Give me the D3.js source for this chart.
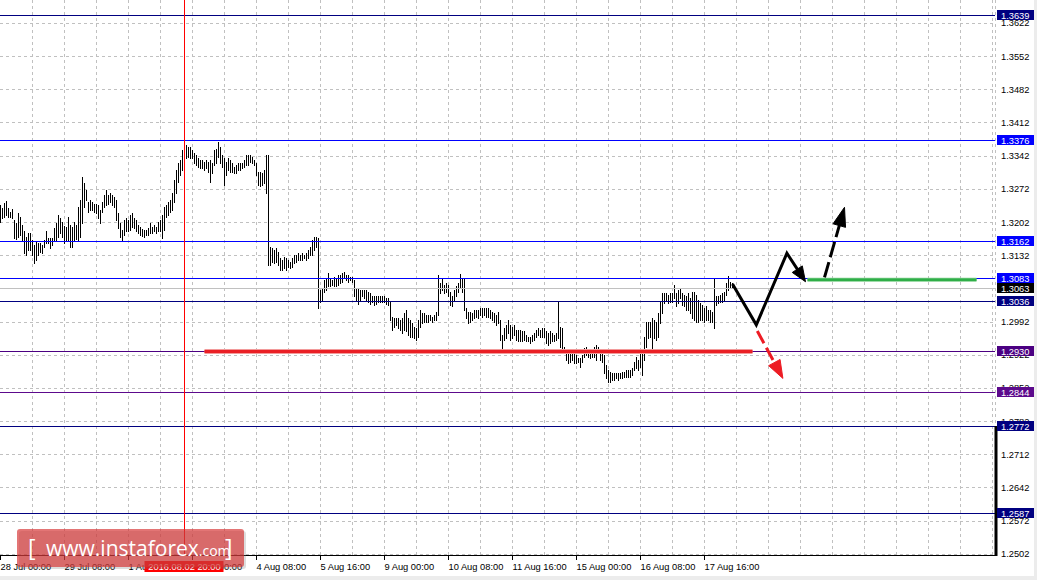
<!DOCTYPE html>
<html><head><meta charset="utf-8">
<script src="https://cdn.jsdelivr.net/npm/d3@7"></script>
<style>
html,body{margin:0;padding:0;background:#fff;}
svg{display:block;}
text{font-family:"Liberation Sans",Arial,sans-serif;}
</style></head><body>
<svg id="chart" width="1037" height="580"></svg>
<script>
// ---------------- DATA ----------------
// hourly bars (GBPUSD H1), 28 Jul 2016 00:00 -> 18 Aug 2016 06:00
const highs = [
1.3239,1.3232,1.3244,1.3247,1.3232,1.3225,1.3230,1.3207,1.3200,1.3221,
1.3214,1.3197,1.3183,1.3172,1.3179,1.3179,1.3165,1.3155,1.3162,1.3158,
1.3158,1.3155,1.3165,1.3183,1.3169,1.3169,1.3169,1.3190,1.3200,1.3218,
1.3211,1.3204,1.3195,1.3192,1.3214,1.3197,1.3193,1.3204,1.3197,1.3235,
1.3249,1.3299,1.3285,1.3271,1.3246,1.3249,1.3246,1.3242,1.3242,1.3239,
1.3228,1.3246,1.3260,1.3271,1.3260,1.3264,1.3260,1.3256,1.3249,1.3221,
1.3200,1.3186,1.3207,1.3211,1.3207,1.3218,1.3221,1.3211,1.3207,1.3197,
1.3193,1.3188,1.3186,1.3186,1.3190,1.3200,1.3193,1.3197,1.3193,1.3204,
1.3207,1.3218,1.3235,1.3239,1.3246,1.3249,1.3264,1.3292,1.3313,1.3327,
1.3334,1.3355,1.3365,1.3365,1.3362,1.3362,1.3355,1.3348,1.3344,1.3337,
1.3334,1.3334,1.3330,1.3334,1.3330,1.3334,1.3327,1.3355,1.3358,1.3372,
1.3362,1.3344,1.3337,1.3330,1.3337,1.3334,1.3327,1.3320,1.3323,1.3327,
1.3327,1.3327,1.3334,1.3344,1.3344,1.3344,1.3341,1.3334,1.3327,1.3309,
1.3309,1.3306,1.3313,1.3344,1.3344,1.3151,1.3148,1.3144,1.3148,1.3140,
1.3126,1.3123,1.3130,1.3126,1.3123,1.3119,1.3126,1.3133,1.3133,1.3137,
1.3133,1.3137,1.3133,1.3137,1.3144,1.3151,1.3165,1.3172,1.3172,1.3169,
1.3060,1.3063,1.3081,1.3084,1.3096,1.3084,1.3081,1.3088,1.3084,1.3091,
1.3091,1.3095,1.3098,1.3091,1.3091,1.3088,1.3088,1.3081,1.3063,1.3063,
1.3060,1.3060,1.3060,1.3060,1.3056,1.3053,1.3046,1.3046,1.3046,1.3046,
1.3046,1.3046,1.3046,1.3042,1.3042,1.3035,1.3003,1.3000,1.3000,1.3000,
1.2996,1.3000,1.3011,1.3018,1.3000,1.2996,1.2989,1.2982,1.2979,1.2996,
1.3018,1.3011,1.3011,1.3007,1.3007,1.3007,1.3003,1.3007,1.3014,1.3091,
1.3074,1.3084,1.3070,1.3074,1.3070,1.3056,1.3046,1.3060,1.3067,1.3074,
1.3093,1.3084,1.3084,1.3021,1.3014,1.3014,1.3011,1.3018,1.3018,1.3018,
1.3021,1.3021,1.3021,1.3021,1.3021,1.3018,1.3014,1.3011,1.3007,1.3014,
1.2996,1.2965,1.2979,1.2986,1.2996,1.2986,1.2982,1.2986,1.2975,1.2975,
1.2975,1.2972,1.2972,1.2965,1.2961,1.2961,1.2965,1.2968,1.2975,1.2979,
1.2975,1.2979,1.2979,1.2972,1.2968,1.2972,1.2968,1.2965,1.2968,1.3035,
1.2982,1.2979,1.2940,1.2933,1.2926,1.2930,1.2933,1.2926,1.2923,1.2916,
1.2916,1.2923,1.2937,1.2940,1.2933,1.2933,1.2933,1.2940,1.2944,1.2940,
1.2930,1.2926,1.2923,1.2901,1.2891,1.2887,1.2884,1.2884,1.2884,1.2884,
1.2884,1.2887,1.2887,1.2891,1.2891,1.2891,1.2894,1.2908,1.2919,1.2912,
1.2926,1.2933,1.2961,1.2993,1.2993,1.2993,1.3000,1.2996,1.2993,1.3011,
1.3035,1.3053,1.3053,1.3053,1.3049,1.3053,1.3053,1.3070,1.3053,1.3060,
1.3063,1.3053,1.3049,1.3046,1.3053,1.3042,1.3056,1.3056,1.3049,1.3039,
1.3032,1.3028,1.3021,1.3025,1.3018,1.3018,1.3014,1.3084,1.3046,1.3046,
1.3049,1.3053,1.3056,1.3074,1.3089,1.3077,1.3074
];
const lows = [
1.3204,1.3211,1.3214,1.3218,1.3214,1.3213,1.3211,1.3169,1.3167,1.3172,
1.3176,1.3165,1.3137,1.3133,1.3144,1.3144,1.3133,1.3116,1.3123,1.3133,
1.3140,1.3137,1.3151,1.3158,1.3158,1.3148,1.3155,1.3165,1.3165,1.3172,
1.3179,1.3172,1.3158,1.3162,1.3165,1.3151,1.3151,1.3162,1.3167,1.3165,
1.3172,1.3200,1.3235,1.3249,1.3225,1.3228,1.3228,1.3225,1.3221,1.3211,
1.3200,1.3225,1.3235,1.3239,1.3242,1.3246,1.3239,1.3235,1.3207,1.3190,
1.3172,1.3165,1.3176,1.3183,1.3183,1.3186,1.3193,1.3190,1.3183,1.3179,
1.3176,1.3174,1.3172,1.3176,1.3176,1.3179,1.3179,1.3183,1.3179,1.3183,
1.3183,1.3169,1.3186,1.3214,1.3218,1.3225,1.3228,1.3246,1.3264,1.3288,
1.3302,1.3313,1.3334,1.3337,1.3341,1.3337,1.3337,1.3327,1.3323,1.3320,
1.3316,1.3316,1.3313,1.3316,1.3309,1.3288,1.3306,1.3323,1.3327,1.3341,
1.3327,1.3320,1.3281,1.3302,1.3313,1.3309,1.3309,1.3306,1.3306,1.3313,
1.3313,1.3316,1.3320,1.3323,1.3323,1.3330,1.3327,1.3323,1.3302,1.3281,
1.3278,1.3281,1.3285,1.3264,1.3112,1.3112,1.3119,1.3116,1.3119,1.3112,
1.3102,1.3102,1.3105,1.3102,1.3109,1.3105,1.3109,1.3116,1.3119,1.3123,
1.3123,1.3123,1.3126,1.3123,1.3126,1.3133,1.3133,1.3144,1.3151,1.3022,
1.3035,1.3038,1.3056,1.3060,1.3067,1.3067,1.3070,1.3067,1.3067,1.3070,
1.3074,1.3077,1.3084,1.3081,1.3077,1.3081,1.3077,1.3046,1.3038,1.3031,
1.3038,1.3046,1.3042,1.3038,1.3035,1.3031,1.3035,1.3028,1.3031,1.3035,
1.3035,1.3035,1.3035,1.3031,1.3028,1.2996,1.2975,1.2982,1.2986,1.2979,
1.2975,1.2968,1.2975,1.2972,1.2965,1.2961,1.2961,1.2958,1.2954,1.2961,
1.2982,1.2989,1.2993,1.2993,1.2993,1.2996,1.2993,1.2996,1.2996,1.3007,
1.3053,1.3060,1.3053,1.3056,1.3046,1.3028,1.3025,1.3038,1.3046,1.3056,
1.3063,1.3056,1.3018,1.3000,1.2989,1.2993,1.2996,1.3000,1.3003,1.3000,
1.3007,1.3003,1.3007,1.3003,1.3003,1.3000,1.2996,1.2993,1.2986,1.2989,
1.2954,1.2933,1.2954,1.2958,1.2968,1.2954,1.2958,1.2965,1.2954,1.2951,
1.2951,1.2951,1.2954,1.2951,1.2951,1.2947,1.2951,1.2954,1.2961,1.2965,
1.2961,1.2961,1.2961,1.2947,1.2944,1.2947,1.2951,1.2951,1.2954,1.2958,
1.2940,1.2937,1.2926,1.2912,1.2905,1.2908,1.2912,1.2905,1.2905,1.2908,
1.2898,1.2908,1.2919,1.2923,1.2919,1.2916,1.2919,1.2919,1.2912,1.2926,
1.2912,1.2908,1.2884,1.2873,1.2866,1.2866,1.2870,1.2870,1.2873,1.2870,
1.2873,1.2873,1.2877,1.2877,1.2877,1.2877,1.2880,1.2891,1.2894,1.2891,
1.2898,1.2880,1.2912,1.2940,1.2958,1.2961,1.2937,1.2958,1.2954,1.2961,
1.2989,1.3011,1.3032,1.3039,1.3032,1.3035,1.3035,1.3042,1.3025,1.3032,
1.3042,1.3028,1.3025,1.3018,1.3018,1.3011,1.3000,1.2996,1.2993,1.2993,
1.2996,1.2996,1.2993,1.2996,1.2996,1.2993,1.2993,1.2979,1.3028,1.3032,
1.3035,1.3035,1.3039,1.3049,1.3060,1.3063,1.3066
];

const priceTicks = [1.2502,1.2572,1.2642,1.2712,1.2782,1.2852,1.2922,1.2992,1.3062,1.3132,1.3202,1.3272,1.3342,1.3412,1.3482,1.3552,1.3622];
const timeTickIndex = [0,32,64,96,128,160,192,224,256,288,320,352];
const timeTickLabels = ["28 Jul 00:00","29 Jul 08:00","1 Aug 16:00","3 Aug 00:00","4 Aug 08:00","5 Aug 16:00","9 Aug 00:00","10 Aug 08:00","11 Aug 16:00","15 Aug 00:00","16 Aug 08:00","17 Aug 16:00"];

const levelPrices = [1.3639,1.3376,1.3162,1.3083,1.3063,1.3036,1.2930,1.2844,1.2772,1.2587];
const levelLabels = ["1.3639","1.3376","1.3162","1.3083","1.3063","1.3036","1.2930","1.2844","1.2772","1.2587"];

const markerIndex = 92;                    // 2016.08.02 20:00
const markerLabel = "2016.08.02 20:00";

const supportIdx = [102, 376];   const supportPrice = 1.2930;
const resistIdx  = [403.5, 488]; const resistPrice  = 1.3081;
const pathIdx    = [366, 377.9, 393.2, 402.5];
const pathPrice  = [1.3072, 1.2986, 1.3137, 1.3077];
const upIdx      = [412, 422];   const upPrice   = [1.3086, 1.3234];
const downIdx    = [378.4, 391.2]; const downPrice = [1.2973, 1.2873];

const logoMain = "www.instaforex";
const logoTld = ".com";

// ---------------- STYLE ----------------
const levelStyle = {
  "1.3639":{line:"#000080", box:"#000080"},
  "1.3376":{line:"#0000ff", box:"#0000ff"},
  "1.3162":{line:"#0000ff", box:"#0000ff"},
  "1.3083":{line:"#0000ff", box:"#0000ff"},
  "1.3063":{line:"#c0c0c0", box:"#000000"},
  "1.3036":{line:"#000080", box:"#000080"},
  "1.2930":{line:"#4b0082", box:"#4b0082"},
  "1.2844":{line:"#5c0a8c", box:"#5c0a8c"},
  "1.2772":{line:"#000080", box:"#000080"},
  "1.2587":{line:"#000080", box:"#000080"}
};

const svg = d3.select("#chart");
const PW = 995, PH = 555;
const x = d3.scaleLinear().domain([0, 497.5]).range([0.5, 995.5]);
const y = d3.scaleLinear().domain([1.25004, 1.36714]).range([555, 0]);
const crisp = v => Math.floor(v) + 0.5;

svg.append("rect").attr("width",1037).attr("height",580).attr("fill","#fff");
svg.append("defs").append("clipPath").attr("id","plot")
  .append("rect").attr("x",0).attr("y",0).attr("width",PW).attr("height",PH);

const plot = svg.append("g").attr("clip-path","url(#plot)");

// grid
const gridIdx = d3.range(16, 497, 16);
plot.append("g").selectAll("line").data(gridIdx).join("line")
  .attr("x1", d => x(d)).attr("x2", d => x(d)).attr("y1", 0).attr("y2", PH)
  .attr("stroke","#c0c0c0").attr("stroke-dasharray","3,3");
plot.append("g").selectAll("line").data(priceTicks).join("line")
  .attr("x1",0).attr("x2",PW).attr("y1", d => crisp(y(d))).attr("y2", d => crisp(y(d)))
  .attr("stroke","#c0c0c0").attr("stroke-dasharray","3,3");

// bars
const bars = highs.map((h,i) => ({i, h, l: lows[i]}));
plot.append("g").selectAll("line").data(bars).join("line")
  .attr("x1", d => x(d.i)).attr("x2", d => x(d.i))
  .attr("y1", d => Math.round(y(d.h))).attr("y2", d => Math.round(y(d.l)) + 1)
  .attr("stroke","#000").attr("stroke-width",1);

// level lines
plot.append("g").selectAll("line").data(levelLabels).join("line")
  .attr("x1",0).attr("x2",PW)
  .attr("y1",(d,i) => crisp(y(levelPrices[i]))).attr("y2",(d,i) => crisp(y(levelPrices[i])))
  .attr("stroke", d => levelStyle[d].line).attr("stroke-width",1);

// vertical marker
plot.append("line").attr("x1", x(markerIndex)).attr("x2", x(markerIndex))
  .attr("y1",0).attr("y2",PH).attr("stroke","#ff0000");

// support / resistance
const sy = y(supportPrice);
plot.append("line").attr("x1",x(supportIdx[0])).attr("x2",x(supportIdx[1])).attr("y1",sy).attr("y2",sy)
  .attr("stroke","#f29a9a").attr("stroke-width",5);
plot.append("line").attr("x1",x(supportIdx[0])).attr("x2",x(supportIdx[1])).attr("y1",sy).attr("y2",sy)
  .attr("stroke","#ea1f25").attr("stroke-width",3);
const ry = y(resistPrice);
plot.append("line").attr("x1",x(resistIdx[0])).attr("x2",x(resistIdx[1])).attr("y1",ry).attr("y2",ry)
  .attr("stroke","#7fcf8c").attr("stroke-width",4);
plot.append("line").attr("x1",x(resistIdx[0])).attr("x2",x(resistIdx[1])).attr("y1",ry).attr("y2",ry)
  .attr("stroke","#2fae48").attr("stroke-width",2.5);

// arrows
function arrow(g, pts, color, width, dash, len, hw) {
  const n = pts.length;
  const p0 = pts[n-2], p1 = pts[n-1];
  const dx = p1[0]-p0[0], dy = p1[1]-p0[1], d = Math.hypot(dx,dy);
  const ux = dx/d, uy = dy/d;
  const base = [p1[0]-ux*len, p1[1]-uy*len];
  const linePts = pts.slice(0, n-1).concat([[p1[0]-ux*len*0.6, p1[1]-uy*len*0.6]]);
  g.append("path").attr("d", d3.line()(linePts)).attr("fill","none")
    .attr("stroke",color).attr("stroke-width",width).attr("stroke-linejoin","miter")
    .attr("stroke-dasharray", dash);
  const tri = [p1, [base[0]-uy*hw/2, base[1]+ux*hw/2], [base[0]+uy*hw/2, base[1]-ux*hw/2]];
  g.append("path").attr("d", d3.line()(tri) + "Z").attr("fill",color).attr("stroke",color).attr("stroke-width",1);
}
const ann = plot.append("g");
arrow(ann, pathIdx.map((v,i)=>[x(v), y(pathPrice[i])]), "#000", 3, null, 15, 12);
arrow(ann, upIdx.map((v,i)=>[x(v), y(upPrice[i])]), "#000", 3, "16,5", 19, 13);
arrow(ann, downIdx.map((v,i)=>[x(v), y(downPrice[i])]), "#ed1c24", 3, "14,5", 18, 13);

// right side frame
svg.append("line").attr("x1",995.5).attr("x2",995.5).attr("y1",0).attr("y2",426)
  .attr("stroke","#c0c0c0").attr("stroke-dasharray","3,3");
svg.append("rect").attr("x",994.5).attr("y",426).attr("width",3).attr("height",130).attr("fill","#000");
svg.append("rect").attr("x",1034).attr("y",0).attr("width",3).attr("height",580).attr("fill","#ececec");
svg.append("rect").attr("x",0).attr("y",576).attr("width",1037).attr("height",4).attr("fill","#ececec");

// bottom axis
const xAxis = d3.axisBottom(x).tickValues(timeTickIndex)
  .tickFormat((d,i) => timeTickLabels[i]).tickSize(5).tickSizeOuter(0).offset(0);
const gx = svg.append("g").attr("transform","translate(0,555)").call(xAxis);
gx.select(".domain").remove();
gx.selectAll(".tick line").attr("stroke","#000");
gx.selectAll(".tick text").attr("text-anchor","start").attr("x",0).attr("y",14.5).attr("dy",0)
  .attr("fill","#000").style("font-size","9.3px").style("font-family","'Liberation Sans',Arial,sans-serif");
svg.append("line").attr("x1",0).attr("x2",997).attr("y1",555.5).attr("y2",555.5).attr("stroke","#000");

// right axis
const yAxis = d3.axisRight(y).tickValues(priceTicks).tickFormat(d3.format(".4f"))
  .tickSize(0).tickPadding(6).offset(0);
const gy = svg.append("g").attr("transform","translate(995,0)").call(yAxis);
gy.select(".domain").remove();
gy.selectAll(".tick text").attr("fill","#000").attr("dy","0.33em")
  .style("font-size","9.3px").style("font-family","'Liberation Sans',Arial,sans-serif");

// level boxes
const boxes = svg.append("g").selectAll("g").data(levelLabels).join("g")
  .attr("transform",(d,i) => `translate(0,${crisp(y(levelPrices[i]))})`);
boxes.append("rect").attr("x",997).attr("y",-5.5).attr("width",37).attr("height",10)
  .attr("fill", d => levelStyle[d].box);
boxes.append("text").attr("x",1001).attr("y",3).text(d => d)
  .attr("fill","#fff").style("font-size","9.3px");

// time marker label
const mx = x(markerIndex);
svg.append("rect").attr("x",mx-40).attr("y",561).attr("width",79).attr("height",11).attr("fill","#ff0000");
svg.append("text").attr("x",mx).attr("y",569.5).attr("text-anchor","middle")
  .attr("fill","#fff").style("font-size","9.3px").text(markerLabel);

// logo
const logo = svg.append("g");
logo.append("rect").attr("x",19).attr("y",531).attr("width",227).attr("height",38).attr("rx",3)
  .attr("fill","rgba(120,120,120,0.25)");
logo.append("rect").attr("x",17).attr("y",529).attr("width",227).attr("height",38).attr("rx",3)
  .attr("fill","rgba(214,52,52,0.68)");
const lt = logo.append("text").attr("y",556).attr("fill","#fff").style("font-family","'Open Sans','Liberation Sans',Arial,sans-serif");
lt.append("tspan").attr("x",28).style("font-size","23px").text("[");
lt.append("tspan").attr("x",46).style("font-size","21px").text(logoMain);
lt.append("tspan").style("font-size","14px").text(logoTld);
lt.append("tspan").attr("x",225).style("font-size","23px").text("]");
</script>
</body></html>
